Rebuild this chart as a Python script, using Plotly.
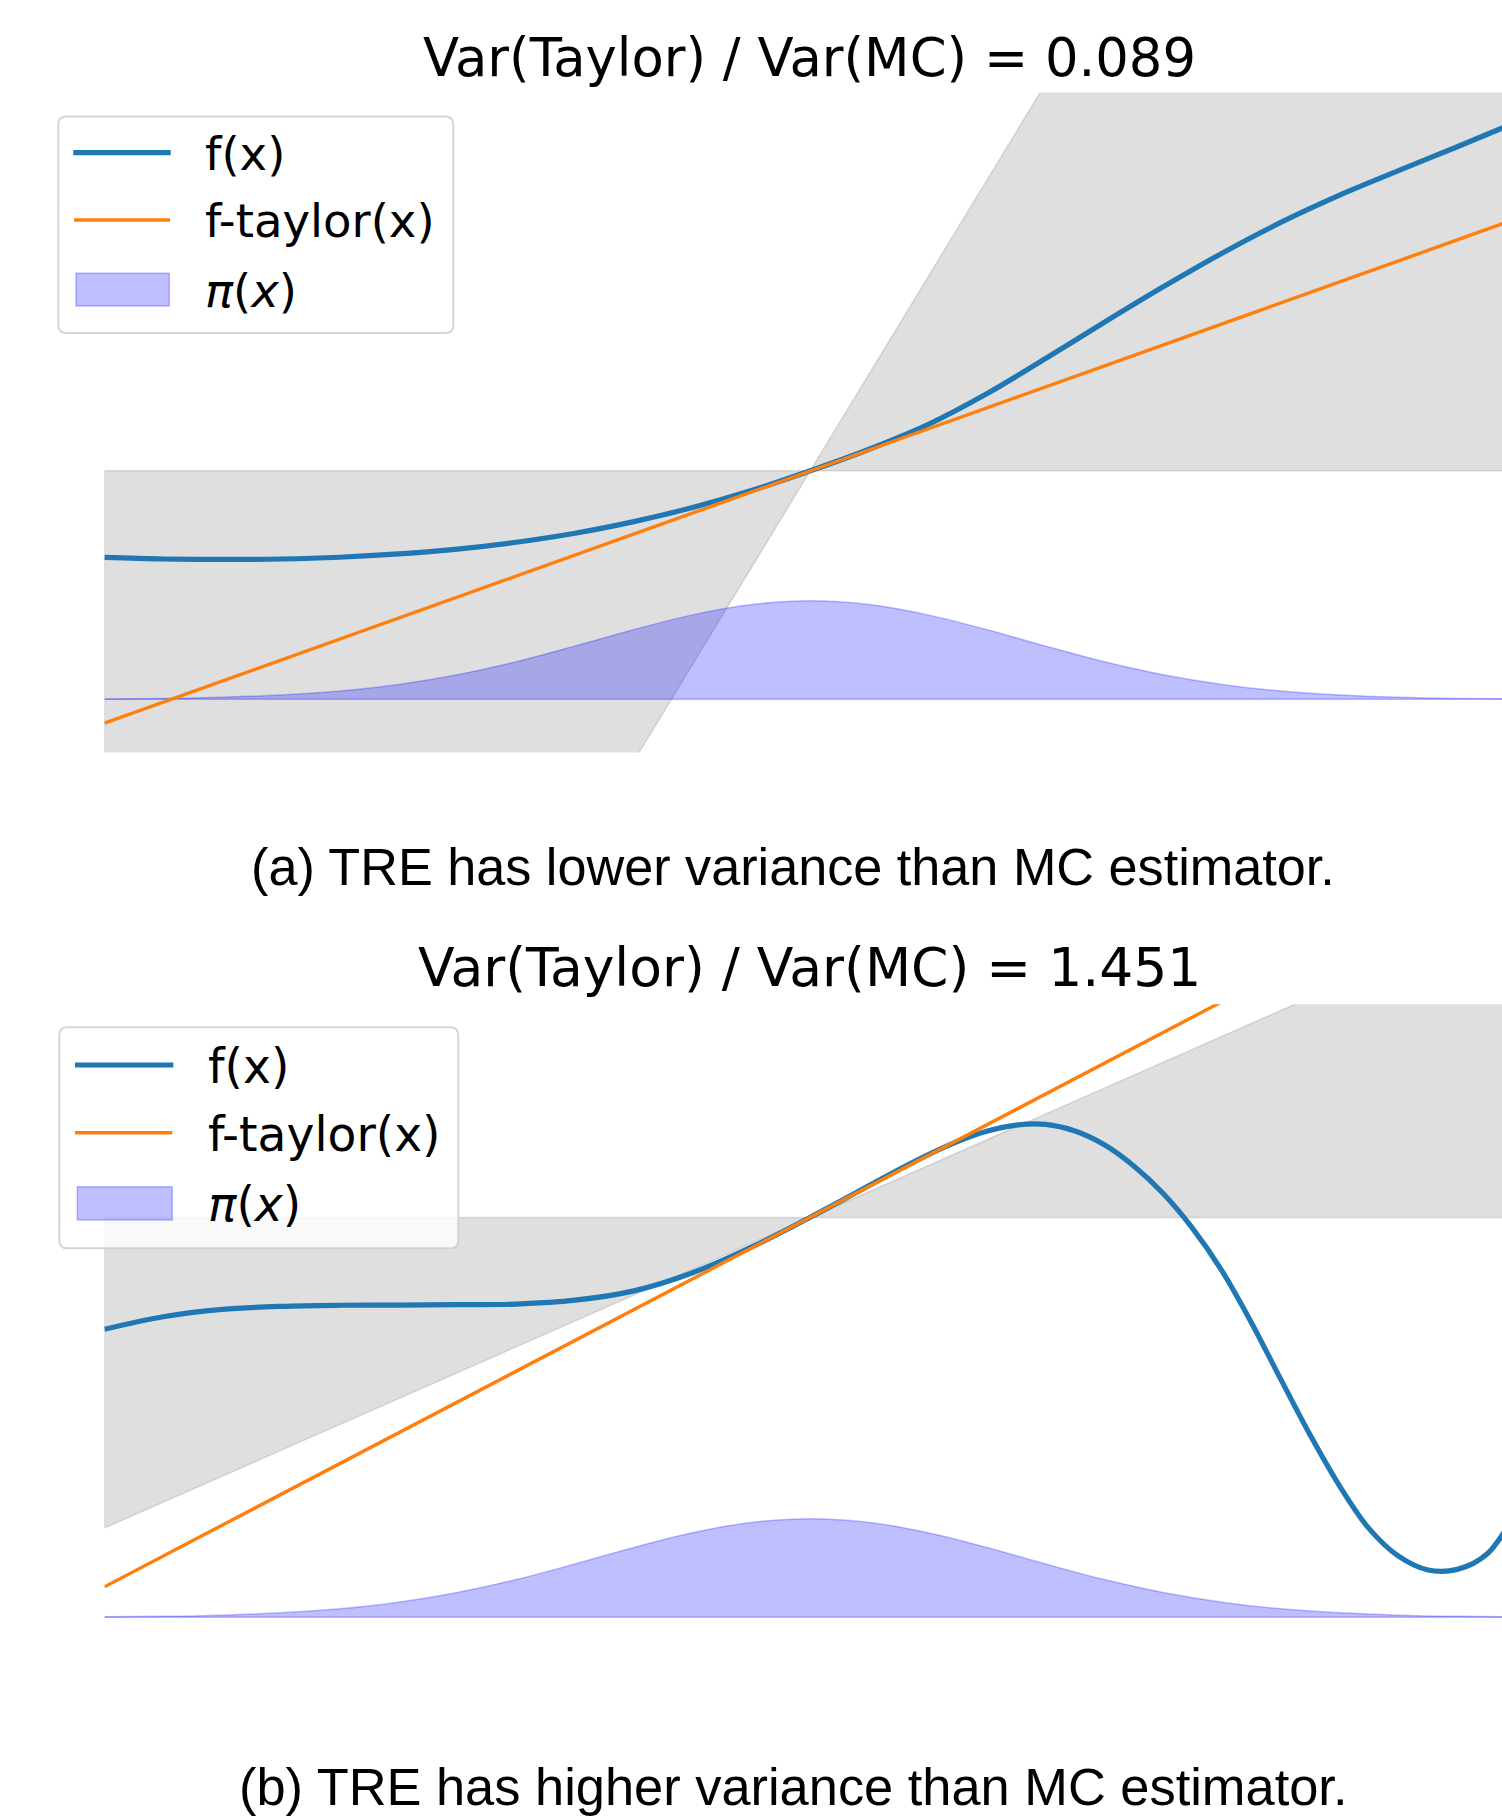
import plotly.graph_objects as go

W, H = 1502, 1818

# ---------------- data ----------------
# panel (a): f(x), Taylor line, gray band bounds
A_F_X = [-3.0, -2.75, -2.5, -2.25, -2.0, -1.75, -1.5, -1.25, -1.0, -0.75, -0.5, -0.25, 0.0,
         0.25, 0.5, 0.75, 1.0, 1.25, 1.5, 1.75, 2.0, 2.25, 2.5, 2.75, 3.0]
A_F_Y = [0.645, 0.638, 0.636, 0.638, 0.646, 0.661, 0.683, 0.714, 0.755, 0.808, 0.872, 0.949, 1.039,
         1.137, 1.249, 1.389, 1.549, 1.714, 1.875, 2.028, 2.168, 2.292, 2.403, 2.512, 2.623]
A_TAYLOR_X = [-3.0, 3.0]
A_TAYLOR_Y = [-0.108, 2.184]
A_BAND_X = [-3.0, 3.0]
A_BAND_FLAT = [1.039, 1.039]
A_BAND_SLOPED = [-4.241, 6.319]
A_TITLE = "Var(Taylor) / Var(MC) = 0.089"
A_CAPTION = "(a) TRE has lower variance than MC estimator."

# panel (b)
B_F_X = [-3.0, -2.75, -2.5, -2.25, -2.0, -1.75, -1.5, -1.25, -1.0, -0.75, -0.5, -0.25, 0.0,
         0.125, 0.25, 0.375, 0.5, 0.625, 0.75, 0.875, 1.0, 1.125, 1.25, 1.375, 1.5, 1.625, 1.75,
         1.875, 2.0, 2.125, 2.25, 2.375, 2.5, 2.625, 2.75, 2.875, 3.0]
B_F_Y = [1.309, 1.366, 1.399, 1.413, 1.418, 1.419, 1.421, 1.4235, 1.441, 1.4835, 1.566, 1.682, 1.818,
         1.889, 1.962, 2.034, 2.102, 2.162, 2.209, 2.237, 2.240, 2.210, 2.1475, 2.051, 1.926, 1.7675, 1.574,
         1.339, 1.081, 0.8275, 0.596, 0.4025, 0.2775, 0.215, 0.2175, 0.286, 0.480]
B_TAYLOR_X = [-3.0, 3.0]
B_TAYLOR_Y = [0.138, 3.498]
B_BAND_X = [-3.0, 3.0]
B_BAND_FLAT = [1.817, 1.817]
B_BAND_SLOPED = [0.4055, 3.2285]
B_TITLE = "Var(Taylor) / Var(MC) = 1.451"
B_CAPTION = "(b) TRE has higher variance than MC estimator."

# density pi(x), same in both panels
PI_X = [-3.0, -2.75, -2.5, -2.25, -2.0, -1.75, -1.5, -1.25, -1.0, -0.75, -0.5, -0.25, 0.0,
        0.25, 0.5, 0.75, 1.0, 1.25, 1.5, 1.75, 2.0, 2.25, 2.5, 2.75, 3.0]
PI_Y = [0.002, 0.004, 0.0095, 0.020, 0.038, 0.068, 0.112, 0.171, 0.242, 0.317, 0.384, 0.431, 0.448,
        0.431, 0.384, 0.317, 0.242, 0.171, 0.112, 0.068, 0.038, 0.020, 0.0095, 0.004, 0.002]
PI_BASE_X = [-3.0, 3.0]
PI_BASE_Y = [0.0, 0.0]

LEGEND_LABELS = ["f(x)", "f-taylor(x)", "<i>π</i>(<i>x</i>)"]

# ---------------- styles ----------------
BLUE = "#1f77b4"
ORANGE = "#ff7f0e"
GRAY_FILL = "rgba(128,128,128,0.25)"
PI_FILL = "rgba(0,0,255,0.25)"
F_WIDTH = 5.2
T_WIDTH = 3.4

fig = go.Figure()


def add_panel(xa, ya, fx, fy, tx, ty, bx, bflat, bslope):
    # gray band (bow-tie polygon between flat and sloped bound)
    fig.add_trace(go.Scatter(
        x=[bx[0], bx[1], bx[1], bx[0], bx[0]],
        y=[bflat[0], bflat[1], bslope[1], bslope[0], bflat[0]],
        mode="lines", fill="toself", fillcolor=GRAY_FILL,
        line=dict(color=GRAY_FILL, width=1.5), xaxis=xa, yaxis=ya,
        showlegend=False, hoverinfo="skip"))
    # density
    fig.add_trace(go.Scatter(x=PI_BASE_X, y=PI_BASE_Y, mode="lines",
                             line=dict(color=PI_FILL, width=1.5), xaxis=xa, yaxis=ya,
                             showlegend=False, hoverinfo="skip"))
    fig.add_trace(go.Scatter(x=PI_X, y=PI_Y, mode="lines", fill="tonexty", fillcolor=PI_FILL,
                             line=dict(color=PI_FILL, width=1.5, shape="spline", smoothing=1),
                             xaxis=xa, yaxis=ya, name="π(x)", showlegend=False))
    fig.add_trace(go.Scatter(x=fx, y=fy, mode="lines",
                             line=dict(color=BLUE, width=F_WIDTH, shape="spline", smoothing=1),
                             xaxis=xa, yaxis=ya, name="f(x)", showlegend=False))
    fig.add_trace(go.Scatter(x=tx, y=ty, mode="lines",
                             line=dict(color=ORANGE, width=T_WIDTH),
                             xaxis=xa, yaxis=ya, name="f-taylor(x)", showlegend=False))


add_panel("x", "y", A_F_X, A_F_Y, A_TAYLOR_X, A_TAYLOR_Y, A_BAND_X, A_BAND_FLAT, A_BAND_SLOPED)
add_panel("x2", "y2", B_F_X, B_F_Y, B_TAYLOR_X, B_TAYLOR_Y, B_BAND_X, B_BAND_FLAT, B_BAND_SLOPED)


def px(xp):
    return xp / W


def py(yp):
    return 1 - yp / H


ax_common = dict(visible=False, showgrid=False, zeroline=False, fixedrange=True)
fig.update_layout(
    width=W, height=H, autosize=False,
    margin=dict(l=0, r=0, t=0, b=0),
    paper_bgcolor="white", plot_bgcolor="white",
    xaxis=dict(domain=[px(104.4), 1.0], range=[-3.0, 2.94], **ax_common),
    yaxis=dict(domain=[py(752.6), py(92.6)], range=[-0.242, 2.758], **ax_common),
    xaxis2=dict(domain=[px(104.4), 1.0], range=[-3.0, 2.94], anchor="y2", **ax_common),
    yaxis2=dict(domain=[py(1664.3), py(1004.3)], range=[-0.214, 2.786], anchor="x2", **ax_common),
    showlegend=False,
)

shapes = []
annotations = []


def rounded_box(x0, y0, x1, y1, r):
    rx, ry = r / W, r / H
    X0, X1 = px(x0), px(x1)
    Y0, Y1 = py(y0), py(y1)  # Y0 top (larger), Y1 bottom
    path = (f"M {X0+rx},{Y0} L {X1-rx},{Y0} Q {X1},{Y0} {X1},{Y0-ry} "
            f"L {X1},{Y1+ry} Q {X1},{Y1} {X1-rx},{Y1} L {X0+rx},{Y1} "
            f"Q {X0},{Y1} {X0},{Y1+ry} L {X0},{Y0-ry} Q {X0},{Y0} {X0+rx},{Y0} Z")
    return dict(type="path", path=path, xref="paper", yref="paper",
                fillcolor="rgba(255,255,255,0.8)",
                line=dict(color="rgba(204,204,204,0.8)", width=2), layer="above")


def legend(box, blue_seg, orange_seg, patch, text_x, text_ys, fsize):
    shapes.append(rounded_box(*box, 8))
    shapes.append(dict(type="line", xref="paper", yref="paper",
                       x0=px(blue_seg[0]), x1=px(blue_seg[1]), y0=py(blue_seg[2]), y1=py(blue_seg[2]),
                       line=dict(color=BLUE, width=F_WIDTH), layer="above"))
    shapes.append(dict(type="line", xref="paper", yref="paper",
                       x0=px(orange_seg[0]), x1=px(orange_seg[1]), y0=py(orange_seg[2]), y1=py(orange_seg[2]),
                       line=dict(color=ORANGE, width=T_WIDTH), layer="above"))
    shapes.append(dict(type="rect", xref="paper", yref="paper",
                       x0=px(patch[0]), x1=px(patch[1]), y0=py(patch[3]), y1=py(patch[2]),
                       fillcolor=PI_FILL, line=dict(color=PI_FILL, width=1.5), layer="above"))
    for lbl, ty in zip(LEGEND_LABELS, text_ys):
        annotations.append(dict(text=lbl, x=px(text_x), y=py(ty), xref="paper", yref="paper",
                                xanchor="left", yanchor="middle", showarrow=False,
                                font=dict(family="DejaVu Sans", size=fsize, color="black")))


legend((58.3, 116.5, 453.3, 333.0), (73.3, 170.7, 152.7), (74.0, 170.0, 220.0),
       (76.0, 169.3, 273.3, 306.0), 203.0, (153.7, 221.0, 290.7), 46.6)
legend((59.3, 1027.3, 458.3, 1248.3), (75.0, 173.3, 1065.0), (75.0, 172.3, 1132.7),
       (77.3, 172.3, 1186.7, 1220.0), 206.0, (1066.5, 1134.0, 1204.5), 47.2)


def text(t, xc, yc, fam, size):
    annotations.append(dict(text=t, x=px(xc), y=py(yc), xref="paper", yref="paper",
                            xanchor="center", yanchor="middle", showarrow=False,
                            font=dict(family=fam, size=size, color="black")))


text(A_TITLE, 810, 57.5, "DejaVu Sans", 52.8)
text(A_CAPTION, 793.4, 867, "Liberation Sans", 52.2)
text(B_TITLE, 809.6, 968, "DejaVu Sans", 53.5)
text(B_CAPTION, 792.8, 1787, "Liberation Sans", 52.4)

fig.update_layout(shapes=shapes, annotations=annotations)
# remove the browser's default page margin so the figure sits at the window's corner
fig.write_html("out.html", config={"displayModeBar": False},
               post_script="document.body.style.margin='0';")
